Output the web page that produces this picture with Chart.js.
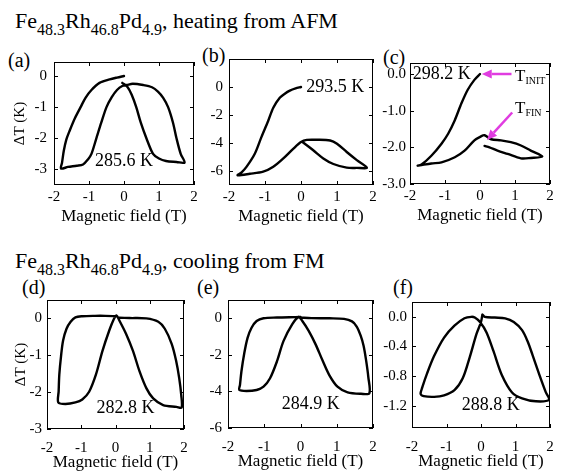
<!DOCTYPE html>
<html>
<head>
<meta charset="utf-8">
<script src="https://cdn.jsdelivr.net/npm/chart.js@4.4.1/dist/chart.umd.min.js"></script>
<style>
  html, body { margin: 0; padding: 0; background: #fff; }
  #page { position: relative; width: 561px; height: 472px; overflow: hidden; color: #000; }
  canvas { position: absolute; }
  .title { position: absolute; left: 15px; font-family: 'Liberation Serif', serif;
           font-size: 22px; line-height: 22px; white-space: nowrap; }
  .title sub { font-size: 16px; vertical-align: baseline; position: relative; top: 7px; }
  .tag { position: absolute; font-family: 'Liberation Serif', serif; font-size: 20px; line-height: 20px; }
</style>
</head>
<body>
<div id="page">
  <div class="title" style="top:10px">Fe<sub>48.3</sub>Rh<sub>46.8</sub>Pd<sub>4.9</sub>, heating from AFM</div>
  <div class="title" style="top:250px">Fe<sub>48.3</sub>Rh<sub>46.8</sub>Pd<sub>4.9</sub>, cooling from FM</div>
  <div class="tag" style="left:8px; top:50px">(a)</div>
  <div class="tag" style="left:202px; top:45px">(b)</div>
  <div class="tag" style="left:383px; top:47px">(c)</div>
  <div class="tag" style="left:22px; top:277px">(d)</div>
  <div class="tag" style="left:197px; top:277px">(e)</div>
  <div class="tag" style="left:393px; top:277px">(f)</div>
  <canvas id="cA"></canvas>
  <canvas id="cB"></canvas>
  <canvas id="cC"></canvas>
  <canvas id="cD"></canvas>
  <canvas id="cE"></canvas>
  <canvas id="cF"></canvas>
</div>
<script>
/* ---- data: field (T) and ΔT (K), in sweep order ---- */
const xTicks = [-2, -1, 0, 1, 2];

// (a) heating, 285.6 K
const fieldA = [0, -0.2, -0.41, -0.7, -0.93, -1.1, -1.24, -1.4, -1.55, -1.65, -1.72, -1.77, -1.8,
                -1.6, -1.35, -1.17, -1.03, -0.93, -0.79, -0.65, -0.5, -0.35, -0.2, -0.05, 0.08,
                0.25, 0.55, 0.8, 0.97, 1.12, 1.26, 1.4, 1.5, 1.62, 1.73,
                1.5, 1.2, 1.0, 0.83, 0.64, 0.48, 0.35, 0.22, 0.1, -0.05];
const dTA    = [0, -0.05, -0.11, -0.22, -0.45, -0.7, -1.0, -1.35, -1.75, -2.05, -2.4, -2.78, -2.97,
                -2.92, -2.88, -2.84, -2.68, -2.5, -2.0, -1.5, -1.0, -0.68, -0.45, -0.32, -0.29,
                -0.25, -0.29, -0.36, -0.5, -0.7, -1.0, -1.5, -2.0, -2.5, -2.78,
                -2.76, -2.73, -2.65, -2.5, -2.0, -1.5, -1.0, -0.6, -0.35, -0.22];

// (b) heating, 293.5 K
const fieldB = [0, -0.15, -0.31, -0.45, -0.59, -0.77, -0.91, -1.1, -1.28, -1.51, -1.65, -1.76,
                -1.42, -1.05, -0.77, -0.49, -0.21, 0,
                0.16, 0.44, 0.81, 1.0, 1.27, 1.55, 1.83,
                1.55, 1.27, 0.9, 0.62, 0.34, 0.05];
const dTB    = [0, -0.1, -0.26, -0.48, -0.77, -1.48, -2.41, -3.58, -4.75, -5.69, -6.1, -6.3,
                -6.2, -6.05, -5.7, -5.1, -4.4, -3.93,
                -3.78, -3.77, -3.82, -4.05, -4.64, -5.22, -5.76,
                -5.78, -5.76, -5.5, -5.1, -4.52, -3.95];

// (c) heating, 298.2 K
const fieldC = [0, -0.16, -0.35, -0.53, -0.72, -0.91, -1.1, -1.39, -1.67, -1.78,
                -1.39, -1.1, -0.72, -0.44, -0.16, 0.03, 0.13,
                0.32, 0.6, 0.88, 1.17, 1.45, 1.78,
                1.45, 1.17, 0.79, 0.5, 0.27, 0.13];
const dTC    = [0, -0.16, -0.43, -0.8, -1.26, -1.63, -1.9, -2.23, -2.47, -2.5,
                -2.44, -2.41, -2.27, -2.09, -1.81, -1.7, -1.67,
                -1.78, -1.81, -1.86, -1.95, -2.09, -2.25,
                -2.29, -2.3, -2.18, -2.09, -2.0, -1.96];

// (d) cooling, 282.8 K
const fieldD = [0.03, -0.3, -0.6, -0.97, -1.17, -1.31, -1.43, -1.53, -1.59, -1.64, -1.66, -1.67,
                -1.46, -1.17, -0.97, -0.77, -0.57, -0.38, -0.18, -0.05, 0.03,
                0.11, 0.31, 0.51, 0.7, 0.9, 1.1, 1.39, 1.78, 1.93,
                1.92, 1.86, 1.77, 1.64, 1.44, 1.25, 0.9, 0.41, 0.11];
const dTD    = [0.06, 0.07, 0.07, 0.06, 0.03, -0.09, -0.28, -0.6, -1.02, -1.52, -1.98, -2.28,
                -2.32, -2.28, -2.2, -1.99, -1.52, -0.88, -0.32, -0.02, 0.08,
                -0.05, -0.42, -0.88, -1.43, -1.89, -2.17, -2.35, -2.4, -2.42,
                -2.08, -1.62, -1.15, -0.69, -0.28, -0.09, 0, 0.01, 0.02];

// (e) cooling, 284.9 K
const fieldE = [0, -0.3, -0.65, -1.02, -1.21, -1.35, -1.46, -1.55, -1.63, -1.67, -1.69,
                -1.49, -1.21, -1.02, -0.84, -0.65, -0.47, -0.23, -0.05,
                0.05, 0.23, 0.42, 0.6, 0.79, 1.02, 1.3, 1.67, 1.9,
                1.87, 1.81, 1.74, 1.66, 1.55, 1.42, 1.2, 0.8, 0.3, 0];
const dTE    = [0.07, 0.06, 0.04, 0, -0.15, -0.52, -1.07, -1.9, -2.91, -3.65, -3.92,
                -3.98, -3.92, -3.74, -3.28, -2.36, -1.25, -0.33, 0.07,
                -0.15, -0.7, -1.44, -2.27, -3.09, -3.74, -4.05, -4.13, -4.1,
                -3.2, -2.3, -1.5, -0.95, -0.45, -0.17, -0.03, 0, 0.01, 0.04];

// (f) cooling, 288.8 K
const fieldF = [0.04, 0.11, 0.4, 0.7, 0.95, 1.19, 1.35, 1.49, 1.69, 1.88, 1.98,
                1.59, 1.19, 0.9, 0.6, 0.36, 0.16, -0.03, -0.18, -0.28,
                -0.48, -0.77, -1.07, -1.36, -1.56, -1.7, -1.75,
                -1.66, -1.36, -1.07, -0.77, -0.53, -0.33, -0.13, 0, 0.04];
const dTF    = [0.03, 0, -0.01, -0.02, -0.07, -0.18, -0.33, -0.51, -0.78, -1.02, -1.12,
                -1.14, -1.1, -1.02, -0.78, -0.46, -0.21, -0.07, -0.01, 0,
                -0.02, -0.12, -0.28, -0.53, -0.76, -0.95, -1.04,
                -1.07, -1.08, -1.06, -0.99, -0.83, -0.55, -0.23, -0.07, 0.03];

const yTicksA = [0, -1, -2, -3];
const yTicksB = [0, -2, -4, -6];
const yTicksC = [0, -1, -2, -3];
const yLabelsC = ['0.0', '-1.0', '-2.0', '-3.0'];
const yTicksD = [0, -1, -2, -3];
const yTicksE = [0, -2, -4, -6];
const yTicksF = [0, -0.4, -0.8, -1.2];
const yLabelsF = ['0.0', '-0.4', '-0.8', '-1.2'];
const tempLabels = ['285.6 K', '293.5 K', '298.2 K', '282.8 K', '284.9 K', '288.8 K'];

/* ---- layout ---- */
const SERIF = "'Liberation Serif', serif";
const X_AXIS_H = 45;
const TICK = 4;
const MAGENTA = '#e03ce0';

// Chart.js adds tick padding to the edge padding it reserves for labels:
// padRight >= half label + xTickPad, padTop >= half label height (9) + tickPad
const panels = [
  { id: 'cA', field: fieldA, dT: dTA, yMin: -3.5, yMax: 0.45, yTicks: yTicksA,
    cv: { left: 0, top: 46, w: 201, h: 184 }, axisW: 54, padTop: 16, padRight: 7, tickPad: 7,
    xTickPad: 3, yTitle: 11, titleBottom: 3, note: { text: tempLabels[0], x: 0, y: -2.75 } },
  { id: 'cB', field: fieldB, dT: dTB, yMin: -7, yMax: 2, yTicks: yTicksB,
    cv: { left: 196, top: 44, w: 184, h: 186 }, axisW: 33, padTop: 15, padRight: 7, tickPad: 6,
    xTickPad: 3, titleBottom: 3, note: { text: tempLabels[1], x: 0.95, y: 0 } },
  { id: 'cC', field: fieldC, dT: dTC, yMin: -3, yMax: 0.3, yTicks: yTicksC, yLabels: yLabelsC,
    cv: { left: 380, top: 50, w: 177, h: 179 }, axisW: 30, padTop: 13, padRight: 7, tickPad: 4,
    xTickPad: 3, titleBottom: 3, note: { text: tempLabels[2], x: -1.09, y: 0 },
    arrows: [{ from: [0.9, 0], to: [0.05, 0] }, { from: [0.92, -1.05], to: [0.2, -1.8] }],
    tags: [{ main: 'T', sub: 'INIT', x: 1.0, y: -0.19 }, { main: 'T', sub: 'FIN', x: 1.0, y: -1.06 }] },
  { id: 'cD', field: fieldD, dT: dTD, yMin: -3, yMax: 0.5, yTicks: yTicksD,
    cv: { left: 0, top: 286, w: 199, h: 188 }, axisW: 47, padTop: 14, padRight: 15, tickPad: 5,
    xTickPad: 10, yTitle: 12, titleBottom: 1, note: { text: tempLabels[3], x: 0.29, y: -2.45 } },
  { id: 'cE', field: fieldE, dT: dTE, yMin: -6, yMax: 1, yTicks: yTicksE,
    cv: { left: 192, top: 285, w: 196, h: 188 }, axisW: 36, padTop: 15, padRight: 15, tickPad: 6,
    xTickPad: 10, titleBottom: 1, note: { text: tempLabels[4], x: 0.28, y: -4.7 } },
  { id: 'cF', field: fieldF, dT: dTF, yMin: -1.5, yMax: 0.2, yTicks: yTicksF, yLabels: yLabelsF,
    cv: { left: 380, top: 288, w: 185, h: 185 }, axisW: 32, padTop: 14, padRight: 15, tickPad: 5,
    xTickPad: 10, titleBottom: 1, note: { text: tempLabels[5], x: 0.28, y: -1.2 } }
];

function drawArrow(ctx, x1, y1, x2, y2) {
  const ang = Math.atan2(y2 - y1, x2 - x1);
  const head = 10, half = 4.5;
  const bx = x2 - head * Math.cos(ang), by = y2 - head * Math.sin(ang);
  ctx.beginPath(); ctx.moveTo(x1, y1); ctx.lineTo(bx, by); ctx.stroke();
  ctx.beginPath();
  ctx.moveTo(x2, y2);
  ctx.lineTo(bx + half * Math.sin(ang), by - half * Math.cos(ang));
  ctx.lineTo(bx - half * Math.sin(ang), by + half * Math.cos(ang));
  ctx.closePath(); ctx.fill();
}

// frame, inward ticks on all four sides, temperature note, arrows
function decoPlugin(p) {
  return {
    id: 'deco',
    afterDatasetsDraw(chart) {
      const { ctx, chartArea: a, scales: { x, y } } = chart;
      ctx.save();
      ctx.strokeStyle = '#000';
      ctx.lineWidth = 1;
      ctx.strokeRect(Math.round(a.left) + 0.5, Math.round(a.top) + 0.5,
                     Math.round(a.right - a.left) - 1, Math.round(a.bottom - a.top) - 1);
      ctx.beginPath();
      x.ticks.forEach(t => {
        const px = Math.round(x.getPixelForValue(t.value)) + 0.5;
        ctx.moveTo(px, a.bottom); ctx.lineTo(px, a.bottom - TICK);
        ctx.moveTo(px, a.top); ctx.lineTo(px, a.top + TICK);
      });
      y.ticks.forEach(t => {
        const py = Math.round(y.getPixelForValue(t.value)) + 0.5;
        ctx.moveTo(a.left, py); ctx.lineTo(a.left + TICK, py);
        ctx.moveTo(a.right, py); ctx.lineTo(a.right - TICK, py);
      });
      ctx.stroke();

      ctx.fillStyle = '#000';
      ctx.font = '18px ' + SERIF;
      ctx.textAlign = 'center';
      ctx.textBaseline = 'middle';
      ctx.fillText(p.note.text, x.getPixelForValue(p.note.x), y.getPixelForValue(p.note.y));

      (p.arrows || []).forEach(ar => {
        ctx.strokeStyle = MAGENTA; ctx.fillStyle = MAGENTA; ctx.lineWidth = 2.5;
        drawArrow(ctx, x.getPixelForValue(ar.from[0]), y.getPixelForValue(ar.from[1]),
                       x.getPixelForValue(ar.to[0]), y.getPixelForValue(ar.to[1]));
      });
      (p.tags || []).forEach(tg => {
        const px = x.getPixelForValue(tg.x), py = y.getPixelForValue(tg.y);
        ctx.fillStyle = '#000';
        ctx.textAlign = 'left';
        ctx.textBaseline = 'alphabetic';
        ctx.font = '17px ' + SERIF;
        ctx.fillText(tg.main, px, py);
        const w = ctx.measureText(tg.main).width;
        ctx.font = '10px ' + SERIF;
        ctx.fillText(tg.sub, px + w, py + 3);
      });
      ctx.restore();
    }
  };
}

function buildChart(p) {
  const cv = document.getElementById(p.id);
  cv.width = p.cv.w; cv.height = p.cv.h;
  cv.style.left = p.cv.left + 'px';
  cv.style.top = p.cv.top + 'px';
  return new Chart(cv, {
    type: 'scatter',
    data: {
      datasets: [{
        data: p.field.map((f, i) => ({ x: f, y: p.dT[i] })),
        showLine: true,
        borderColor: '#000',
        borderWidth: 2.4,
        pointRadius: 0,
        tension: 0.3,
        borderJoinStyle: 'round',
        borderCapStyle: 'round'
      }]
    },
    options: {
      responsive: false,
      animation: false,
      events: [],
      layout: { padding: { top: p.padTop, right: p.padRight, left: 0, bottom: 0 } },
      plugins: { legend: { display: false }, tooltip: { enabled: false } },
      scales: {
        x: {
          type: 'linear', min: -2, max: 2,
          afterBuildTicks: s => { s.ticks = xTicks.map(v => ({ value: v })); },
          afterFit: s => { s.height = X_AXIS_H; },
          ticks: { padding: p.xTickPad, autoSkip: false, maxRotation: 0, color: '#000',
                   font: { family: SERIF, size: 15 }, callback: v => String(v) },
          grid: { display: false, drawTicks: false },
          border: { display: false },
          title: { display: true, text: 'Magnetic field (T)', color: '#000',
                   font: { family: SERIF, size: 17 }, padding: { top: 0, bottom: p.titleBottom } }
        },
        y: {
          type: 'linear', min: p.yMin, max: p.yMax,
          afterBuildTicks: s => { s.ticks = p.yTicks.map(v => ({ value: v })); },
          afterFit: s => { s.width = p.axisW; },
          ticks: { padding: p.tickPad, autoSkip: false, color: '#000',
                   font: { family: SERIF, size: 15 },
                   callback: (v, i) => p.yLabels ? p.yLabels[i] : String(v) },
          grid: { display: false, drawTicks: false },
          border: { display: false },
          title: { display: !!p.yTitle, text: 'ΔT (K)', color: '#000',
                   font: { family: SERIF, size: 15 }, padding: { top: p.yTitle || 0, bottom: 0 } }
        }
      }
    },
    plugins: [decoPlugin(p)]
  });
}

panels.forEach(buildChart);
</script>
</body>
</html>
